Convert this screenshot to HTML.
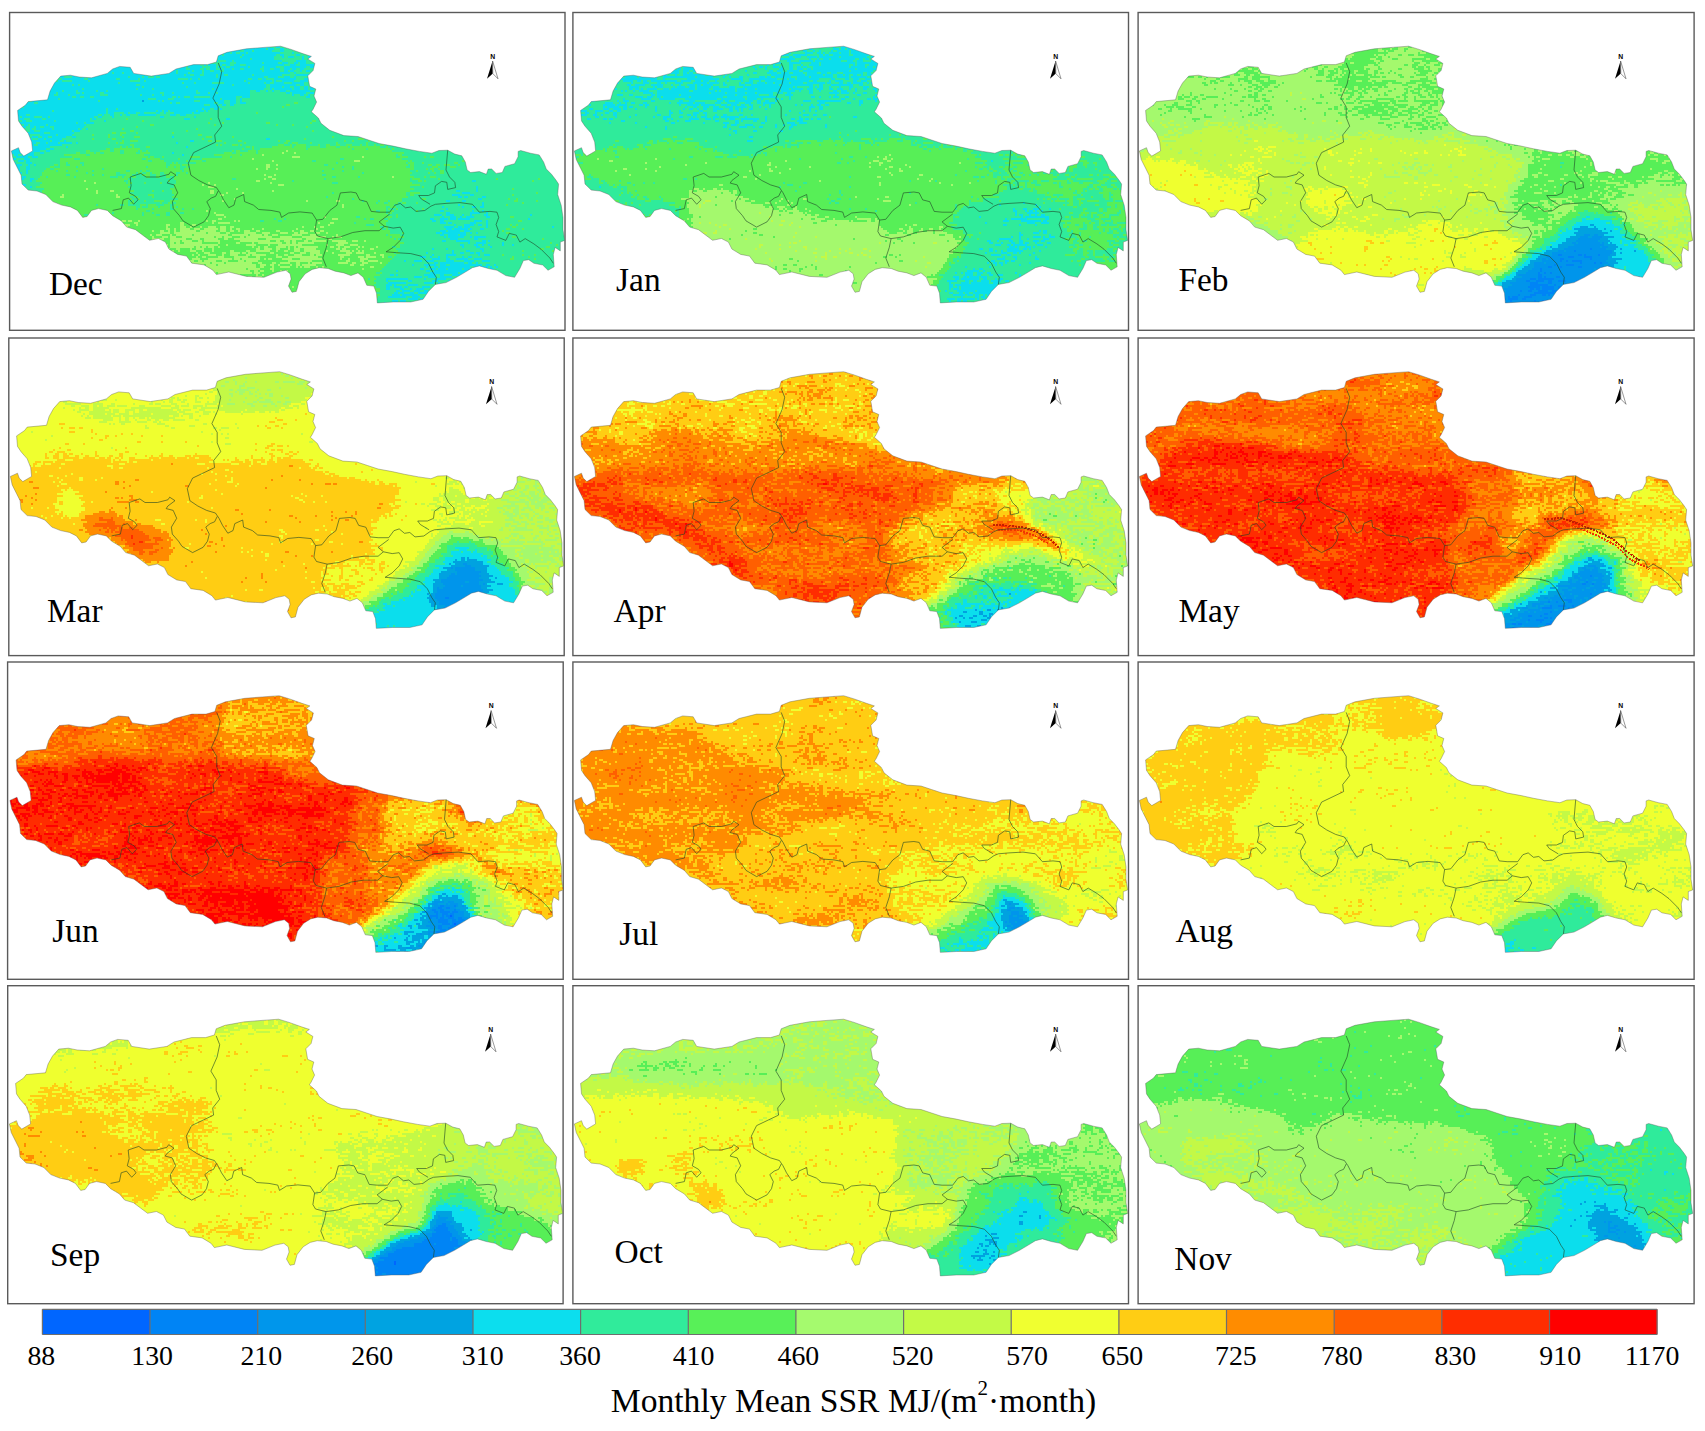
<!DOCTYPE html>
<html lang="en"><head><meta charset="utf-8"><title>Monthly Mean SSR</title>
<style>html,body{margin:0;padding:0;background:#fff}body{width:1705px;height:1431px;overflow:hidden}svg{display:block}text{font-family:"Liberation Serif","Times New Roman",serif;fill:#000}.n{font-family:"Liberation Sans",sans-serif;font-weight:bold;font-size:6.8px}.m{font-size:33.4px}.t{font-size:27.8px}.c{font-size:33.6px}</style></head><body>
<svg width="1705" height="1431" viewBox="0 0 1705 1431">
<defs>
<clipPath id="o"><path d="M11.4 150.9L18.5 147.7L20.2 152.6L23.8 156.1L32.6 150.9L31.7 142.1L28.2 133.3L22 126.2L18.5 120.9L17.6 110.4L25.5 105.1L28.2 101.6L47.5 99.8L50.1 91L54.5 83.1L60.7 76.1L70.4 75.2L79.2 77L91.5 77.8L107.3 73.4L112.6 69L119.7 66.4L130.2 67.3L133.7 73.4L151.3 76.1L168.9 73.4L176 69L193.6 64.6L207.6 64.6L216.4 62L218.2 55.8L227 52.3L246.4 48.8L264 47.4L280.6 46.2L291.1 49.4L303.4 53.8L311.4 56.4L307.8 59L314.9 63.4L313.1 70.5L307.8 75.8L309.6 86.3L315.8 89L314 96L316.6 102.1L313.1 109.2L311.4 111.8L318.4 118L321 123.3L329.8 130.3L343.9 135.6L358 136.5L368.5 140L379.1 143.5L393.2 146.1L405.5 148.8L419.6 151.4L431.9 153.2L438.9 150.5L447.7 150.2L454.8 154.1L461.8 155.8L465.3 162L467.1 169.9L470.6 172.5L479.4 171.6L486.4 174.3L488.2 169L491.7 169L496.1 173.4L502.3 172.5L504.9 166.4L514.6 163.7L518.1 156.7L518.1 151.4L520.7 150.5L530.4 153.2L539.2 154.9L543.6 162L546.3 169L551.5 174.3L555.9 180L558.6 184.1L557.7 194.6L561.2 205.2L563 217.5L563 229.8L564.7 240.4L560.3 242.1L560.3 250.9L555.1 247.4L553.3 254.5L554.2 266.8L548 270.3L542.7 265L533.9 263.3L528.7 259.7L523.4 260.6L519.9 268.5L514.6 277.3L505.8 275.6L497 270.3L488.2 268.5L479.4 265.9L472.4 267.7L465.3 272.1L456.5 277.3L446 282.6L435.4 284.4L428.4 291.4L423.1 299.3L410.8 302L393.2 302L377.3 302.9L376.5 293.2L373.8 286.1L366.8 285.3L363.3 277.3L358 272.9L350.9 275.6L343.9 272.9L335.1 271.2L328.1 268.5L319.3 267.7L312.2 269.4L305.2 273.8L299 281.7L296.4 291.4L292 292.3L288.5 286.1L291.1 279.1L290.2 273.8L285.8 270.3L277 272.1L264 277.3L246.4 276.4L228.8 272L216.4 274.6L212.9 270.2L204.1 264.9L191.8 263.2L186.5 256.1L177.7 254.4L168.9 249.1L165.4 242.1L158.4 238.5L149.6 240.3L142.5 235L135.5 229.7L126.7 227.1L121.4 220.9L112.6 215.7L107.3 210.4L98.5 208.6L91.5 210.4L87.1 216.5L82.7 217.4L77.4 210.4L70.4 206.9L61.6 205.1L52.8 201.6L45.8 194.5L37 191L28.2 190.1L22 184L21.1 175.2L17.6 168.2L13.2 159.4Z"/></clipPath>
<path id="ol" d="M11.4 150.9L18.5 147.7L20.2 152.6L23.8 156.1L32.6 150.9L31.7 142.1L28.2 133.3L22 126.2L18.5 120.9L17.6 110.4L25.5 105.1L28.2 101.6L47.5 99.8L50.1 91L54.5 83.1L60.7 76.1L70.4 75.2L79.2 77L91.5 77.8L107.3 73.4L112.6 69L119.7 66.4L130.2 67.3L133.7 73.4L151.3 76.1L168.9 73.4L176 69L193.6 64.6L207.6 64.6L216.4 62L218.2 55.8L227 52.3L246.4 48.8L264 47.4L280.6 46.2L291.1 49.4L303.4 53.8L311.4 56.4L307.8 59L314.9 63.4L313.1 70.5L307.8 75.8L309.6 86.3L315.8 89L314 96L316.6 102.1L313.1 109.2L311.4 111.8L318.4 118L321 123.3L329.8 130.3L343.9 135.6L358 136.5L368.5 140L379.1 143.5L393.2 146.1L405.5 148.8L419.6 151.4L431.9 153.2L438.9 150.5L447.7 150.2L454.8 154.1L461.8 155.8L465.3 162L467.1 169.9L470.6 172.5L479.4 171.6L486.4 174.3L488.2 169L491.7 169L496.1 173.4L502.3 172.5L504.9 166.4L514.6 163.7L518.1 156.7L518.1 151.4L520.7 150.5L530.4 153.2L539.2 154.9L543.6 162L546.3 169L551.5 174.3L555.9 180L558.6 184.1L557.7 194.6L561.2 205.2L563 217.5L563 229.8L564.7 240.4L560.3 242.1L560.3 250.9L555.1 247.4L553.3 254.5L554.2 266.8L548 270.3L542.7 265L533.9 263.3L528.7 259.7L523.4 260.6L519.9 268.5L514.6 277.3L505.8 275.6L497 270.3L488.2 268.5L479.4 265.9L472.4 267.7L465.3 272.1L456.5 277.3L446 282.6L435.4 284.4L428.4 291.4L423.1 299.3L410.8 302L393.2 302L377.3 302.9L376.5 293.2L373.8 286.1L366.8 285.3L363.3 277.3L358 272.9L350.9 275.6L343.9 272.9L335.1 271.2L328.1 268.5L319.3 267.7L312.2 269.4L305.2 273.8L299 281.7L296.4 291.4L292 292.3L288.5 286.1L291.1 279.1L290.2 273.8L285.8 270.3L277 272.1L264 277.3L246.4 276.4L228.8 272L216.4 274.6L212.9 270.2L204.1 264.9L191.8 263.2L186.5 256.1L177.7 254.4L168.9 249.1L165.4 242.1L158.4 238.5L149.6 240.3L142.5 235L135.5 229.7L126.7 227.1L121.4 220.9L112.6 215.7L107.3 210.4L98.5 208.6L91.5 210.4L87.1 216.5L82.7 217.4L77.4 210.4L70.4 206.9L61.6 205.1L52.8 201.6L45.8 194.5L37 191L28.2 190.1L22 184L21.1 175.2L17.6 168.2L13.2 159.4Z"/>
<g id="il"><path d="M218.2 62.9L221.7 71.7L219.1 84L212.9 98.1L218.2 106.9L218.2 117.4L221.7 126.2L214.7 135L215.6 142.1L193.6 152.6L188.3 163.2L190.9 175.2L198.8 180.5L207.6 184.9L216.4 187.5L220 192.8L223.5 199.8L228.8 207.7L234 205.1L235.8 198.1L243.7 194.5L244.6 201.6L253.4 205.1L258.7 209.5L271 210.4L279.8 212.1L281.5 217.4L288.6 213L299.9 211.9L312.2 213.1L316.6 220.1L322.8 219.3L329.8 210.5L336.9 205.2L340.4 192.9L350.9 192L356.2 192.9L359.7 199.9L366.8 201.7L371.2 211.4L379.1 212.2L389.7 212.2L394.9 205.2L400.2 203.4L405.5 207.8L410.8 207L416 211.4L424.8 210.5L431 206.1L435.4 204.3L446 203.4L460 202.6L472.4 204.3L479.4 212.2L490 211.4L497 212.2L498.7 217.5L496.1 224.5L498.7 231.6L497 236.9L505.8 240.4L509.3 233.4L516.3 235.1L519.9 242.1L525.2 238.6L533.9 243.9L541 249.2L549.8 258L553.3 263.3"/><path d="M447.7 150.2L446 170L449.5 177L454.8 182.3L455.6 187.6L447.7 189.4L446.8 182.3L441.6 181.4L435.4 185.8L434.5 192.9L428.4 195.5L418.7 195.5L421.3 199L430.1 204.3"/><path d="M316.6 220.1L314.9 231.6L317.5 236L328.1 238.6L326.3 247.4L322.8 258L326.3 266.8"/><path d="M328.1 238.6L340.4 236.9L352.7 232.5L365 230.7L379.1 230.7L384.4 226.3L379.1 221.9L389.7 214"/><path d="M384.4 226.3L393.2 228.1L400.2 227.2L403.7 233.4L400.2 240.4L393.2 247.4L386.1 251.8L396.7 252.7L410.8 253.6L421.3 256.2L428.4 263.3L432.8 272.1L436.3 277.3L435.4 284.4"/><path d="M112.6 210.4L121.4 208.6L123.2 199.8L128.5 198.1L133.7 204.2L138.1 199.8L135.5 196.3L129.3 192.8L131.1 185.7L130.2 177L140.8 173.4L146 177L158.4 177L168.9 174.3L170.7 171.7L176 175.2L168.9 180.5L167.2 183.1L174.2 184.9L177.7 192.8L172.4 201.6L173.3 208.6L179.5 215.7L183 220.9L193.6 227.1L204.1 221.8L208.5 215.7L210.3 208.6L206.8 201.6L211.2 198.1L215.6 196.3L218.2 191"/></g>
<g id="na"><text class="n" x="492.75" y="58.5" text-anchor="middle">N</text><path d="M492.6 61L487 78.8L492.8 73.6Z" fill="#000"/><path d="M492.6 61L498 78.8L492.8 73.6Z" fill="#fff" stroke="#333" stroke-width=".5"/></g>
<filter id="q0" filterUnits="userSpaceOnUse" x="0" y="20" width="580" height="300" color-interpolation-filters="sRGB"><feGaussianBlur in="SourceGraphic" stdDeviation="5.0" result="b"/><feTurbulence type="fractalNoise" baseFrequency="0.02 0.05" numOctaves="3" seed="3" result="n1"/><feColorMatrix in="n1" type="matrix" values="1 0 0 0 0 1 0 0 0 0 1 0 0 0 0 0 0 0 0 1" result="m1"/><feTurbulence type="fractalNoise" baseFrequency="0.2 0.45" numOctaves="1" seed="11" result="n2"/><feColorMatrix in="n2" type="matrix" values="1 0 0 0 0 1 0 0 0 0 1 0 0 0 0 0 0 0 0 1" result="m2"/><feComposite in="b" in2="m1" operator="arithmetic" k1="0" k2="1" k3="0.08" k4="-0.04" result="s1"/><feComposite in="s1" in2="m2" operator="arithmetic" k1="0" k2="1" k3="0.12" k4="-0.06" result="s"/><feFlood x="0" y="20" width="1" height="1" flood-color="#fff" result="d"/><feOffset in="d" dx="0" dy="0" x="0" y="20" width="2" height="2" result="t"/><feTile in="t" result="g"/><feComposite in="s" in2="g" operator="in" result="sp"/><feConvolveMatrix in="sp" order="2" kernelMatrix="1 1 1 1" divisor="1" edgeMode="none" preserveAlpha="false" result="px"/><feComponentTransfer in="px"><feFuncR type="discrete" tableValues="0.0 0.0 0.0 0.0 0.047 0.188 0.345 0.647 0.765 0.941 1.0 1.0 1.0 1.0 1.0"/><feFuncG type="discrete" tableValues="0.4 0.518 0.588 0.639 0.871 0.922 0.941 0.98 0.98 1.0 0.804 0.549 0.373 0.176 0.0"/><feFuncB type="discrete" tableValues="1.0 0.961 0.922 0.882 0.933 0.608 0.345 0.431 0.275 0.188 0.078 0.0 0.0 0.0 0.0"/></feComponentTransfer></filter>
<filter id="q1" filterUnits="userSpaceOnUse" x="0" y="20" width="580" height="300" color-interpolation-filters="sRGB"><feGaussianBlur in="SourceGraphic" stdDeviation="5.0" result="b"/><feTurbulence type="fractalNoise" baseFrequency="0.02 0.05" numOctaves="3" seed="10" result="n1"/><feColorMatrix in="n1" type="matrix" values="1 0 0 0 0 1 0 0 0 0 1 0 0 0 0 0 0 0 0 1" result="m1"/><feTurbulence type="fractalNoise" baseFrequency="0.2 0.45" numOctaves="1" seed="16" result="n2"/><feColorMatrix in="n2" type="matrix" values="1 0 0 0 0 1 0 0 0 0 1 0 0 0 0 0 0 0 0 1" result="m2"/><feComposite in="b" in2="m1" operator="arithmetic" k1="0" k2="1" k3="0.08" k4="-0.04" result="s1"/><feComposite in="s1" in2="m2" operator="arithmetic" k1="0" k2="1" k3="0.12" k4="-0.06" result="s"/><feFlood x="0" y="20" width="1" height="1" flood-color="#fff" result="d"/><feOffset in="d" dx="0" dy="0" x="0" y="20" width="2" height="2" result="t"/><feTile in="t" result="g"/><feComposite in="s" in2="g" operator="in" result="sp"/><feConvolveMatrix in="sp" order="2" kernelMatrix="1 1 1 1" divisor="1" edgeMode="none" preserveAlpha="false" result="px"/><feComponentTransfer in="px"><feFuncR type="discrete" tableValues="0.0 0.0 0.0 0.0 0.047 0.188 0.345 0.647 0.765 0.941 1.0 1.0 1.0 1.0 1.0"/><feFuncG type="discrete" tableValues="0.4 0.518 0.588 0.639 0.871 0.922 0.941 0.98 0.98 1.0 0.804 0.549 0.373 0.176 0.0"/><feFuncB type="discrete" tableValues="1.0 0.961 0.922 0.882 0.933 0.608 0.345 0.431 0.275 0.188 0.078 0.0 0.0 0.0 0.0"/></feComponentTransfer></filter>
<filter id="q2" filterUnits="userSpaceOnUse" x="0" y="20" width="580" height="300" color-interpolation-filters="sRGB"><feGaussianBlur in="SourceGraphic" stdDeviation="5.0" result="b"/><feTurbulence type="fractalNoise" baseFrequency="0.02 0.05" numOctaves="3" seed="17" result="n1"/><feColorMatrix in="n1" type="matrix" values="1 0 0 0 0 1 0 0 0 0 1 0 0 0 0 0 0 0 0 1" result="m1"/><feTurbulence type="fractalNoise" baseFrequency="0.2 0.45" numOctaves="1" seed="21" result="n2"/><feColorMatrix in="n2" type="matrix" values="1 0 0 0 0 1 0 0 0 0 1 0 0 0 0 0 0 0 0 1" result="m2"/><feComposite in="b" in2="m1" operator="arithmetic" k1="0" k2="1" k3="0.1" k4="-0.05" result="s1"/><feComposite in="s1" in2="m2" operator="arithmetic" k1="0" k2="1" k3="0.14" k4="-0.07" result="s"/><feFlood x="0" y="20" width="1" height="1" flood-color="#fff" result="d"/><feOffset in="d" dx="0" dy="0" x="0" y="20" width="2" height="2" result="t"/><feTile in="t" result="g"/><feComposite in="s" in2="g" operator="in" result="sp"/><feConvolveMatrix in="sp" order="2" kernelMatrix="1 1 1 1" divisor="1" edgeMode="none" preserveAlpha="false" result="px"/><feComponentTransfer in="px"><feFuncR type="discrete" tableValues="0.0 0.0 0.0 0.0 0.047 0.188 0.345 0.647 0.765 0.941 1.0 1.0 1.0 1.0 1.0"/><feFuncG type="discrete" tableValues="0.4 0.518 0.588 0.639 0.871 0.922 0.941 0.98 0.98 1.0 0.804 0.549 0.373 0.176 0.0"/><feFuncB type="discrete" tableValues="1.0 0.961 0.922 0.882 0.933 0.608 0.345 0.431 0.275 0.188 0.078 0.0 0.0 0.0 0.0"/></feComponentTransfer></filter>
<filter id="q3" filterUnits="userSpaceOnUse" x="0" y="20" width="580" height="300" color-interpolation-filters="sRGB"><feGaussianBlur in="SourceGraphic" stdDeviation="5.0" result="b"/><feTurbulence type="fractalNoise" baseFrequency="0.02 0.05" numOctaves="3" seed="24" result="n1"/><feColorMatrix in="n1" type="matrix" values="1 0 0 0 0 1 0 0 0 0 1 0 0 0 0 0 0 0 0 1" result="m1"/><feTurbulence type="fractalNoise" baseFrequency="0.2 0.45" numOctaves="1" seed="26" result="n2"/><feColorMatrix in="n2" type="matrix" values="1 0 0 0 0 1 0 0 0 0 1 0 0 0 0 0 0 0 0 1" result="m2"/><feComposite in="b" in2="m1" operator="arithmetic" k1="0" k2="1" k3="0.08" k4="-0.04" result="s1"/><feComposite in="s1" in2="m2" operator="arithmetic" k1="0" k2="1" k3="0.12" k4="-0.06" result="s"/><feFlood x="0" y="20" width="1" height="1" flood-color="#fff" result="d"/><feOffset in="d" dx="0" dy="0" x="0" y="20" width="2" height="2" result="t"/><feTile in="t" result="g"/><feComposite in="s" in2="g" operator="in" result="sp"/><feConvolveMatrix in="sp" order="2" kernelMatrix="1 1 1 1" divisor="1" edgeMode="none" preserveAlpha="false" result="px"/><feComponentTransfer in="px"><feFuncR type="discrete" tableValues="0.0 0.0 0.0 0.0 0.047 0.188 0.345 0.647 0.765 0.941 1.0 1.0 1.0 1.0 1.0"/><feFuncG type="discrete" tableValues="0.4 0.518 0.588 0.639 0.871 0.922 0.941 0.98 0.98 1.0 0.804 0.549 0.373 0.176 0.0"/><feFuncB type="discrete" tableValues="1.0 0.961 0.922 0.882 0.933 0.608 0.345 0.431 0.275 0.188 0.078 0.0 0.0 0.0 0.0"/></feComponentTransfer></filter>
<filter id="q4" filterUnits="userSpaceOnUse" x="0" y="20" width="580" height="300" color-interpolation-filters="sRGB"><feGaussianBlur in="SourceGraphic" stdDeviation="5.0" result="b"/><feTurbulence type="fractalNoise" baseFrequency="0.02 0.05" numOctaves="3" seed="31" result="n1"/><feColorMatrix in="n1" type="matrix" values="1 0 0 0 0 1 0 0 0 0 1 0 0 0 0 0 0 0 0 1" result="m1"/><feTurbulence type="fractalNoise" baseFrequency="0.2 0.45" numOctaves="1" seed="31" result="n2"/><feColorMatrix in="n2" type="matrix" values="1 0 0 0 0 1 0 0 0 0 1 0 0 0 0 0 0 0 0 1" result="m2"/><feComposite in="b" in2="m1" operator="arithmetic" k1="0" k2="1" k3="0.15" k4="-0.075" result="s1"/><feComposite in="s1" in2="m2" operator="arithmetic" k1="0" k2="1" k3="0.24" k4="-0.12" result="s"/><feFlood x="0" y="20" width="1" height="1" flood-color="#fff" result="d"/><feOffset in="d" dx="0" dy="0" x="0" y="20" width="2" height="2" result="t"/><feTile in="t" result="g"/><feComposite in="s" in2="g" operator="in" result="sp"/><feConvolveMatrix in="sp" order="2" kernelMatrix="1 1 1 1" divisor="1" edgeMode="none" preserveAlpha="false" result="px"/><feComponentTransfer in="px"><feFuncR type="discrete" tableValues="0.0 0.0 0.0 0.0 0.047 0.188 0.345 0.647 0.765 0.941 1.0 1.0 1.0 1.0 1.0"/><feFuncG type="discrete" tableValues="0.4 0.518 0.588 0.639 0.871 0.922 0.941 0.98 0.98 1.0 0.804 0.549 0.373 0.176 0.0"/><feFuncB type="discrete" tableValues="1.0 0.961 0.922 0.882 0.933 0.608 0.345 0.431 0.275 0.188 0.078 0.0 0.0 0.0 0.0"/></feComponentTransfer></filter>
<filter id="q5" filterUnits="userSpaceOnUse" x="0" y="20" width="580" height="300" color-interpolation-filters="sRGB"><feGaussianBlur in="SourceGraphic" stdDeviation="5.0" result="b"/><feTurbulence type="fractalNoise" baseFrequency="0.02 0.05" numOctaves="3" seed="38" result="n1"/><feColorMatrix in="n1" type="matrix" values="1 0 0 0 0 1 0 0 0 0 1 0 0 0 0 0 0 0 0 1" result="m1"/><feTurbulence type="fractalNoise" baseFrequency="0.2 0.45" numOctaves="1" seed="36" result="n2"/><feColorMatrix in="n2" type="matrix" values="1 0 0 0 0 1 0 0 0 0 1 0 0 0 0 0 0 0 0 1" result="m2"/><feComposite in="b" in2="m1" operator="arithmetic" k1="0" k2="1" k3="0.15" k4="-0.075" result="s1"/><feComposite in="s1" in2="m2" operator="arithmetic" k1="0" k2="1" k3="0.24" k4="-0.12" result="s"/><feFlood x="0" y="20" width="1" height="1" flood-color="#fff" result="d"/><feOffset in="d" dx="0" dy="0" x="0" y="20" width="2" height="2" result="t"/><feTile in="t" result="g"/><feComposite in="s" in2="g" operator="in" result="sp"/><feConvolveMatrix in="sp" order="2" kernelMatrix="1 1 1 1" divisor="1" edgeMode="none" preserveAlpha="false" result="px"/><feComponentTransfer in="px"><feFuncR type="discrete" tableValues="0.0 0.0 0.0 0.0 0.047 0.188 0.345 0.647 0.765 0.941 1.0 1.0 1.0 1.0 1.0"/><feFuncG type="discrete" tableValues="0.4 0.518 0.588 0.639 0.871 0.922 0.941 0.98 0.98 1.0 0.804 0.549 0.373 0.176 0.0"/><feFuncB type="discrete" tableValues="1.0 0.961 0.922 0.882 0.933 0.608 0.345 0.431 0.275 0.188 0.078 0.0 0.0 0.0 0.0"/></feComponentTransfer></filter>
<filter id="q6" filterUnits="userSpaceOnUse" x="0" y="20" width="580" height="300" color-interpolation-filters="sRGB"><feGaussianBlur in="SourceGraphic" stdDeviation="5.0" result="b"/><feTurbulence type="fractalNoise" baseFrequency="0.02 0.05" numOctaves="3" seed="45" result="n1"/><feColorMatrix in="n1" type="matrix" values="1 0 0 0 0 1 0 0 0 0 1 0 0 0 0 0 0 0 0 1" result="m1"/><feTurbulence type="fractalNoise" baseFrequency="0.2 0.45" numOctaves="1" seed="41" result="n2"/><feColorMatrix in="n2" type="matrix" values="1 0 0 0 0 1 0 0 0 0 1 0 0 0 0 0 0 0 0 1" result="m2"/><feComposite in="b" in2="m1" operator="arithmetic" k1="0" k2="1" k3="0.15" k4="-0.075" result="s1"/><feComposite in="s1" in2="m2" operator="arithmetic" k1="0" k2="1" k3="0.24" k4="-0.12" result="s"/><feFlood x="0" y="20" width="1" height="1" flood-color="#fff" result="d"/><feOffset in="d" dx="0" dy="0" x="0" y="20" width="2" height="2" result="t"/><feTile in="t" result="g"/><feComposite in="s" in2="g" operator="in" result="sp"/><feConvolveMatrix in="sp" order="2" kernelMatrix="1 1 1 1" divisor="1" edgeMode="none" preserveAlpha="false" result="px"/><feComponentTransfer in="px"><feFuncR type="discrete" tableValues="0.0 0.0 0.0 0.0 0.047 0.188 0.345 0.647 0.765 0.941 1.0 1.0 1.0 1.0 1.0"/><feFuncG type="discrete" tableValues="0.4 0.518 0.588 0.639 0.871 0.922 0.941 0.98 0.98 1.0 0.804 0.549 0.373 0.176 0.0"/><feFuncB type="discrete" tableValues="1.0 0.961 0.922 0.882 0.933 0.608 0.345 0.431 0.275 0.188 0.078 0.0 0.0 0.0 0.0"/></feComponentTransfer></filter>
<filter id="q7" filterUnits="userSpaceOnUse" x="0" y="20" width="580" height="300" color-interpolation-filters="sRGB"><feGaussianBlur in="SourceGraphic" stdDeviation="5.0" result="b"/><feTurbulence type="fractalNoise" baseFrequency="0.02 0.05" numOctaves="3" seed="52" result="n1"/><feColorMatrix in="n1" type="matrix" values="1 0 0 0 0 1 0 0 0 0 1 0 0 0 0 0 0 0 0 1" result="m1"/><feTurbulence type="fractalNoise" baseFrequency="0.2 0.45" numOctaves="1" seed="46" result="n2"/><feColorMatrix in="n2" type="matrix" values="1 0 0 0 0 1 0 0 0 0 1 0 0 0 0 0 0 0 0 1" result="m2"/><feComposite in="b" in2="m1" operator="arithmetic" k1="0" k2="1" k3="0.11" k4="-0.055" result="s1"/><feComposite in="s1" in2="m2" operator="arithmetic" k1="0" k2="1" k3="0.16" k4="-0.08" result="s"/><feFlood x="0" y="20" width="1" height="1" flood-color="#fff" result="d"/><feOffset in="d" dx="0" dy="0" x="0" y="20" width="2" height="2" result="t"/><feTile in="t" result="g"/><feComposite in="s" in2="g" operator="in" result="sp"/><feConvolveMatrix in="sp" order="2" kernelMatrix="1 1 1 1" divisor="1" edgeMode="none" preserveAlpha="false" result="px"/><feComponentTransfer in="px"><feFuncR type="discrete" tableValues="0.0 0.0 0.0 0.0 0.047 0.188 0.345 0.647 0.765 0.941 1.0 1.0 1.0 1.0 1.0"/><feFuncG type="discrete" tableValues="0.4 0.518 0.588 0.639 0.871 0.922 0.941 0.98 0.98 1.0 0.804 0.549 0.373 0.176 0.0"/><feFuncB type="discrete" tableValues="1.0 0.961 0.922 0.882 0.933 0.608 0.345 0.431 0.275 0.188 0.078 0.0 0.0 0.0 0.0"/></feComponentTransfer></filter>
<filter id="q8" filterUnits="userSpaceOnUse" x="0" y="20" width="580" height="300" color-interpolation-filters="sRGB"><feGaussianBlur in="SourceGraphic" stdDeviation="5.0" result="b"/><feTurbulence type="fractalNoise" baseFrequency="0.02 0.05" numOctaves="3" seed="59" result="n1"/><feColorMatrix in="n1" type="matrix" values="1 0 0 0 0 1 0 0 0 0 1 0 0 0 0 0 0 0 0 1" result="m1"/><feTurbulence type="fractalNoise" baseFrequency="0.2 0.45" numOctaves="1" seed="51" result="n2"/><feColorMatrix in="n2" type="matrix" values="1 0 0 0 0 1 0 0 0 0 1 0 0 0 0 0 0 0 0 1" result="m2"/><feComposite in="b" in2="m1" operator="arithmetic" k1="0" k2="1" k3="0.08" k4="-0.04" result="s1"/><feComposite in="s1" in2="m2" operator="arithmetic" k1="0" k2="1" k3="0.12" k4="-0.06" result="s"/><feFlood x="0" y="20" width="1" height="1" flood-color="#fff" result="d"/><feOffset in="d" dx="0" dy="0" x="0" y="20" width="2" height="2" result="t"/><feTile in="t" result="g"/><feComposite in="s" in2="g" operator="in" result="sp"/><feConvolveMatrix in="sp" order="2" kernelMatrix="1 1 1 1" divisor="1" edgeMode="none" preserveAlpha="false" result="px"/><feComponentTransfer in="px"><feFuncR type="discrete" tableValues="0.0 0.0 0.0 0.0 0.047 0.188 0.345 0.647 0.765 0.941 1.0 1.0 1.0 1.0 1.0"/><feFuncG type="discrete" tableValues="0.4 0.518 0.588 0.639 0.871 0.922 0.941 0.98 0.98 1.0 0.804 0.549 0.373 0.176 0.0"/><feFuncB type="discrete" tableValues="1.0 0.961 0.922 0.882 0.933 0.608 0.345 0.431 0.275 0.188 0.078 0.0 0.0 0.0 0.0"/></feComponentTransfer></filter>
<filter id="q9" filterUnits="userSpaceOnUse" x="0" y="20" width="580" height="300" color-interpolation-filters="sRGB"><feGaussianBlur in="SourceGraphic" stdDeviation="5.0" result="b"/><feTurbulence type="fractalNoise" baseFrequency="0.02 0.05" numOctaves="3" seed="66" result="n1"/><feColorMatrix in="n1" type="matrix" values="1 0 0 0 0 1 0 0 0 0 1 0 0 0 0 0 0 0 0 1" result="m1"/><feTurbulence type="fractalNoise" baseFrequency="0.2 0.45" numOctaves="1" seed="56" result="n2"/><feColorMatrix in="n2" type="matrix" values="1 0 0 0 0 1 0 0 0 0 1 0 0 0 0 0 0 0 0 1" result="m2"/><feComposite in="b" in2="m1" operator="arithmetic" k1="0" k2="1" k3="0.08" k4="-0.04" result="s1"/><feComposite in="s1" in2="m2" operator="arithmetic" k1="0" k2="1" k3="0.12" k4="-0.06" result="s"/><feFlood x="0" y="20" width="1" height="1" flood-color="#fff" result="d"/><feOffset in="d" dx="0" dy="0" x="0" y="20" width="2" height="2" result="t"/><feTile in="t" result="g"/><feComposite in="s" in2="g" operator="in" result="sp"/><feConvolveMatrix in="sp" order="2" kernelMatrix="1 1 1 1" divisor="1" edgeMode="none" preserveAlpha="false" result="px"/><feComponentTransfer in="px"><feFuncR type="discrete" tableValues="0.0 0.0 0.0 0.0 0.047 0.188 0.345 0.647 0.765 0.941 1.0 1.0 1.0 1.0 1.0"/><feFuncG type="discrete" tableValues="0.4 0.518 0.588 0.639 0.871 0.922 0.941 0.98 0.98 1.0 0.804 0.549 0.373 0.176 0.0"/><feFuncB type="discrete" tableValues="1.0 0.961 0.922 0.882 0.933 0.608 0.345 0.431 0.275 0.188 0.078 0.0 0.0 0.0 0.0"/></feComponentTransfer></filter>
<filter id="q10" filterUnits="userSpaceOnUse" x="0" y="20" width="580" height="300" color-interpolation-filters="sRGB"><feGaussianBlur in="SourceGraphic" stdDeviation="5.0" result="b"/><feTurbulence type="fractalNoise" baseFrequency="0.02 0.05" numOctaves="3" seed="73" result="n1"/><feColorMatrix in="n1" type="matrix" values="1 0 0 0 0 1 0 0 0 0 1 0 0 0 0 0 0 0 0 1" result="m1"/><feTurbulence type="fractalNoise" baseFrequency="0.2 0.45" numOctaves="1" seed="61" result="n2"/><feColorMatrix in="n2" type="matrix" values="1 0 0 0 0 1 0 0 0 0 1 0 0 0 0 0 0 0 0 1" result="m2"/><feComposite in="b" in2="m1" operator="arithmetic" k1="0" k2="1" k3="0.08" k4="-0.04" result="s1"/><feComposite in="s1" in2="m2" operator="arithmetic" k1="0" k2="1" k3="0.12" k4="-0.06" result="s"/><feFlood x="0" y="20" width="1" height="1" flood-color="#fff" result="d"/><feOffset in="d" dx="0" dy="0" x="0" y="20" width="2" height="2" result="t"/><feTile in="t" result="g"/><feComposite in="s" in2="g" operator="in" result="sp"/><feConvolveMatrix in="sp" order="2" kernelMatrix="1 1 1 1" divisor="1" edgeMode="none" preserveAlpha="false" result="px"/><feComponentTransfer in="px"><feFuncR type="discrete" tableValues="0.0 0.0 0.0 0.0 0.047 0.188 0.345 0.647 0.765 0.941 1.0 1.0 1.0 1.0 1.0"/><feFuncG type="discrete" tableValues="0.4 0.518 0.588 0.639 0.871 0.922 0.941 0.98 0.98 1.0 0.804 0.549 0.373 0.176 0.0"/><feFuncB type="discrete" tableValues="1.0 0.961 0.922 0.882 0.933 0.608 0.345 0.431 0.275 0.188 0.078 0.0 0.0 0.0 0.0"/></feComponentTransfer></filter>
<filter id="q11" filterUnits="userSpaceOnUse" x="0" y="20" width="580" height="300" color-interpolation-filters="sRGB"><feGaussianBlur in="SourceGraphic" stdDeviation="5.0" result="b"/><feTurbulence type="fractalNoise" baseFrequency="0.02 0.05" numOctaves="3" seed="80" result="n1"/><feColorMatrix in="n1" type="matrix" values="1 0 0 0 0 1 0 0 0 0 1 0 0 0 0 0 0 0 0 1" result="m1"/><feTurbulence type="fractalNoise" baseFrequency="0.2 0.45" numOctaves="1" seed="66" result="n2"/><feColorMatrix in="n2" type="matrix" values="1 0 0 0 0 1 0 0 0 0 1 0 0 0 0 0 0 0 0 1" result="m2"/><feComposite in="b" in2="m1" operator="arithmetic" k1="0" k2="1" k3="0.08" k4="-0.04" result="s1"/><feComposite in="s1" in2="m2" operator="arithmetic" k1="0" k2="1" k3="0.12" k4="-0.06" result="s"/><feFlood x="0" y="20" width="1" height="1" flood-color="#fff" result="d"/><feOffset in="d" dx="0" dy="0" x="0" y="20" width="2" height="2" result="t"/><feTile in="t" result="g"/><feComposite in="s" in2="g" operator="in" result="sp"/><feConvolveMatrix in="sp" order="2" kernelMatrix="1 1 1 1" divisor="1" edgeMode="none" preserveAlpha="false" result="px"/><feComponentTransfer in="px"><feFuncR type="discrete" tableValues="0.0 0.0 0.0 0.0 0.047 0.188 0.345 0.647 0.765 0.941 1.0 1.0 1.0 1.0 1.0"/><feFuncG type="discrete" tableValues="0.4 0.518 0.588 0.639 0.871 0.922 0.941 0.98 0.98 1.0 0.804 0.549 0.373 0.176 0.0"/><feFuncB type="discrete" tableValues="1.0 0.961 0.922 0.882 0.933 0.608 0.345 0.431 0.275 0.188 0.078 0.0 0.0 0.0 0.0"/></feComponentTransfer></filter>
<filter id="pb" filterUnits="userSpaceOnUse" x="300" y="120" width="330" height="260" color-interpolation-filters="sRGB"><feGaussianBlur stdDeviation="4"/></filter>
</defs>
<rect width="1705" height="1431" fill="#fff"/>
<rect x="9.6" y="12.5" width="555.4" height="317.8" fill="none" stroke="#5a5a5a" stroke-width="1.4"/>
<g transform="translate(0 0)"><g clip-path="url(#o)"><g transform="translate(0 0)" filter="url(#q0)"><g transform="translate(0 0)"><rect x="-10" y="10" width="600" height="320" fill="rgb(94,94,94)"/><path d="M6.7 93.6L50.1 63.5L133.7 56.8L214 53.5L217.3 40.1L267.4 40.1L277.5 60.2L267.4 86.9L234 102L214 107L173.8 110.3L140.4 113.7L100.3 117L66.9 137.1L36.8 157.1L6.7 157.1Z" fill="rgb(79,79,79)"/><path d="M267.4 40.1L320.9 40.1L320.9 97L267.4 90.3L277.5 60.2Z" fill="rgb(85,85,85)"/><path d="M6.7 157.1L36.8 157.1L33.4 180.5L23.4 203.9L6.7 187.2Z" fill="rgb(86,86,86)"/><path d="M36.8 173.8L76.9 152.1L133.7 148.8L180.5 167.2L200.6 157.1L267.4 147.1L334.3 143.8L384.5 147.1L412.9 160.5L409.5 187.2L396.2 207.3L384.5 230.7L402.8 234L396.2 254.1L381.1 267.4L376.1 300.9L287.5 307.6L200.6 284.2L133.7 240.7L83.6 220.6L43.5 200.6Z" fill="rgb(110,110,110)"/><path d="M132.1 175.5L173.8 173.8L177.2 200.6L140.4 203.9L127 200.6Z" fill="rgb(94,94,94)"/><path d="M147.1 230.7L173.8 224L234 227.3L320.9 230.7L320.9 270.8L214 277.5L187.2 257.4L157.1 240.7Z" fill="rgb(121,121,121)"/><path d="M329.3 237.4L384.5 234L387.8 254.1L377.8 267.4L334.3 264.1Z" fill="rgb(118,118,118)"/><path d="M431.3 203.9L468 200.6L494.8 217.3L491.4 254.1L475.6 291.6L454.4 310.6L417.2 328.2L386 328.8L384.5 274.1L417.9 254.1L434.6 234Z" fill="rgb(85,85,85)" filter="url(#pb)"/></g></g></g><use href="#ol" fill="none" stroke="#555" stroke-opacity=".55" stroke-width=".7"/><use href="#il" fill="none" stroke="#1e4426" stroke-opacity=".8" stroke-width=".75"/><use href="#na"/></g>
<text class="m" x="48.9" y="294.6">Dec</text>
<rect x="572.9" y="12.5" width="555.6" height="317.8" fill="none" stroke="#5a5a5a" stroke-width="1.4"/>
<g transform="translate(563 0)"><g clip-path="url(#o)"><g transform="translate(0 0)" filter="url(#q1)"><g transform="translate(0 0)"><rect x="-10" y="10" width="600" height="320" fill="rgb(94,94,94)"/><path d="M46.8 60.2L133.7 56.8L217.3 53.5L217.3 40.1L320.9 40.1L320.9 80.2L300.9 93.6L267.4 97L234 97L214 103.6L173.8 107L133.7 107L100.3 100.3L50.1 97Z" fill="rgb(83,83,83)"/><path d="M13.4 100.3L50.1 97L100.3 100.3L133.7 107L214 103.6L267.4 97L320.9 80.2L320.9 110.3L267.4 127L217.3 133.7L187.2 140.4L133.7 133.7L83.6 127L13.4 120.4Z" fill="rgb(88,88,88)"/><path d="M6.7 160.5L33.4 150.4L66.9 147.1L100.3 140.4L150.4 147.1L187.2 157.1L200.6 147.1L267.4 140.4L334.3 140.4L384.5 147.1L417.9 157.1L434.6 173.8L444.6 187.2L417.9 200.6L394.5 207.3L384.5 227.3L401.2 234L394.5 250.7L367.7 294.2L287.5 307.6L200.6 284.2L133.7 240.7L83.6 220.6L43.5 207.3L6.7 187.2Z" fill="rgb(110,110,110)"/><path d="M494.8 207.3L521.5 187.2L591.7 165.1L596.3 265.4L562 295.2L526.2 281.7L498.1 234Z" fill="rgb(103,103,103)" filter="url(#pb)"/><path d="M423 129.6L447 119.1L471.9 146L529 126.8L521.5 187.2L494.8 207.3L444.6 187.2Z" fill="rgb(102,102,102)" filter="url(#pb)"/><path d="M127 190.6L173.8 188.9L187.2 200.6L214 214L254.1 217.3L314.3 220.6L320.9 234L384.5 230.7L401.2 234L394.5 250.7L381.1 264.1L367.7 290.9L287.5 307.6L200.6 284.2L133.7 240.7L123.7 210.6Z" fill="rgb(128,128,128)"/><path d="M434.6 207.3L474.7 203.9L494.8 220.6L491.4 254.1L475.6 291.6L442.6 311.8L424.6 260.8L407.9 257.4L421.2 234Z" fill="rgb(87,87,87)" filter="url(#pb)"/><path d="M401.2 264.1L424.6 264.1L439.3 308.4L451.2 316.5L379.4 332.2L384.5 284.2Z" fill="rgb(82,82,82)" filter="url(#pb)"/><path d="M13.4 187.2L43.5 200.6L83.6 214L113.7 217.3L110.3 200.6L66.9 193.9L20.1 173.8Z" fill="rgb(94,94,94)"/></g></g></g><use href="#ol" fill="none" stroke="#555" stroke-opacity=".55" stroke-width=".7"/><use href="#il" fill="none" stroke="#1e4426" stroke-opacity=".8" stroke-width=".75"/><use href="#na"/></g>
<text class="m" x="616.1" y="290.5">Jan</text>
<rect x="1138.1" y="12.5" width="556" height="317.8" fill="none" stroke="#5a5a5a" stroke-width="1.4"/>
<g transform="translate(1128 0)"><g clip-path="url(#o)"><g transform="translate(0 0)" filter="url(#q2)"><g transform="translate(0 0)"><rect x="-10" y="10" width="600" height="320" fill="rgb(128,128,128)"/><path d="M13.4 100.3L50.1 63.5L217.3 50.1L217.3 36.8L324.3 36.8L324.3 127L300.9 133.7L254.1 130.4L234 110.3L200.6 100.3L133.7 97L83.6 100.3L33.4 117Z" fill="rgb(121,121,121)"/><path d="M217.3 36.8L324.3 36.8L324.3 110.3L260.8 113.7L220.6 100.3Z" fill="rgb(118,118,118)"/><path d="M20.1 140.4L83.6 127L150.4 127L187.2 140.4L234 133.7L300.9 140.4L367.7 150.4L401.2 160.5L384.5 187.2L377.8 214L367.7 234L300.9 240.7L234 234L187.2 240.7L147.1 234L127 214L66.9 187.2L26.7 173.8Z" fill="rgb(144,144,144)"/><path d="M6.7 153.8L40.1 157.1L83.6 173.8L127 187.2L133.7 207.3L120.4 217.3L83.6 214L43.5 203.9L10 180.5Z" fill="rgb(162,162,162)"/><path d="M173.8 187.2L214 187.2L217.3 207.3L200.6 217.3L180.5 207.3Z" fill="rgb(162,162,162)"/><path d="M187.2 234L234 230.7L267.4 227.3L314.3 220.6L320.9 234L367.7 234L401.2 240.7L394.5 257.4L377.8 274.1L334.3 270.8L287.5 307.6L200.6 284.2L160.5 247.4Z" fill="rgb(162,162,162)"/><path d="M401.2 157.1L447 115.8L471.9 146L512.4 117.3L595.1 165.1L599.7 254.1L534.9 234L494.8 214L468 203.9L434.6 207.3L417.9 227.3L407.9 234L387.8 214L384.5 187.2Z" fill="rgb(114,114,114)" filter="url(#pb)"/><path d="M491.4 200.6L521.5 187.2L598.3 191.8L599.6 285.5L545.5 302L508.2 247.4Z" fill="rgb(138,138,138)" filter="url(#pb)"/><path d="M454.7 205.6L488.1 214L511.5 240.7L553.8 282.1L502.8 311.7L473.5 302.7L465.6 307.5L461.2 318.2L369.3 337.2L366.2 312L391.1 257.4L414.5 242.4L434.6 224Z" fill="rgb(94,94,94)" filter="url(#pb)"/><path d="M458 214L484.8 222.3L504.8 242.4L543.8 283.6L502.8 305L473.5 297.6L463.9 302.5L457.9 314.8L376 333.8L348.3 294.1L394.5 260.8L417.9 247.4L437.9 230.7Z" fill="rgb(76,76,76)" filter="url(#pb)"/><path d="M461.3 230.7L481.4 240.7L487 289.8L473.5 294.3L463.9 299.1L454.5 311.5L379.4 330.5L354.9 297.5L401.2 264.1L421.2 254.1L441.3 240.7Z" fill="rgb(36,36,36)" filter="url(#pb)"/></g></g></g><use href="#ol" fill="none" stroke="#555" stroke-opacity=".55" stroke-width=".7"/><use href="#il" fill="none" stroke="#1e4426" stroke-opacity=".8" stroke-width=".75"/><use href="#na"/></g>
<text class="m" x="1178.4" y="291.3">Feb</text>
<rect x="8.8" y="338" width="555.4" height="317.6" fill="none" stroke="#5a5a5a" stroke-width="1.4"/>
<g transform="translate(-1 325.5)"><g clip-path="url(#o)"><g transform="translate(0 -0.5)" filter="url(#q3)"><g transform="translate(0 .5)"><rect x="-10" y="10" width="600" height="320" fill="rgb(162,162,162)"/><path d="M218.3 36.3L321.9 36.3L321.9 66.4L301.9 76.4L255.1 86.4L218.3 83.1Z" fill="rgb(138,138,138)"/><path d="M51.1 63L134.7 56.3L218.3 53L218.3 83.1L201.6 99.8L134.7 103.1L84.6 96.5L51.1 83.1Z" fill="rgb(153,153,153)"/><path d="M7.7 149.9L31.1 139.9L67.9 133.2L118 129.9L188.2 133.2L215 133.2L268.4 136.6L301.9 133.2L335.3 146.6L368.7 153.3L402.2 163.3L398.8 176.7L372.1 196.7L368.7 226.8L321.9 236.9L321.9 266.9L288.5 307.1L201.6 283.7L134.7 240.2L84.6 220.1L44.5 206.8L7.7 180Z" fill="rgb(178,178,178)"/><path d="M321.9 236.9L368.7 226.8L388.8 233.5L388.8 253.6L368.7 287L321.9 266.9Z" fill="rgb(169,169,169)"/><path d="M57.8 163.3L81.2 163.3L81.2 186.7L57.8 186.7Z" fill="rgb(162,162,162)"/><path d="M84.6 186.7L111.3 190.1L134.7 200.1L168.2 206.8L174.8 226.8L158.1 236.9L141.4 233.5L124.7 216.8L101.3 206.8L84.6 200.1Z" fill="rgb(204,204,204)"/><path d="M96.3 188.4L114.7 189.4L116.3 196.7L98 196.7Z" fill="rgb(223,223,223)"/><path d="M124.7 206.8L141.4 208.4L144.8 226.8L131.4 226.8Z" fill="rgb(219,219,219)"/><path d="M422.2 186.7L449 146.6L475.7 173.3L495.8 160L495.8 213.5L469 200.1L435.6 200.1Z" fill="rgb(152,152,152)"/><path d="M495.8 132L513.4 116.8L596.1 164.6L600.6 274.9L530.6 294.4L522.5 233.5L495.8 213.5Z" fill="rgb(136,136,136)" filter="url(#pb)"/><path d="M452.3 203.4L495.8 213.5L522.5 243.5L530.6 304.5L474.5 303.8L462.2 317.7L370.3 336.7L339.7 291.5L392.1 256.9L415.5 241.9L432.3 220.1Z" fill="rgb(110,110,110)" filter="url(#pb)"/><path d="M459 216.8L489.1 226.8L512.5 253.6L539.8 291.4L474.5 297.1L464.9 302L458.9 314.3L377 333.3L352.6 297L402.2 266.9L422.2 253.6L438.9 233.5Z" fill="rgb(76,76,76)" filter="url(#pb)"/><path d="M465.7 233.5L485.8 243.5L488 287.6L474.5 293.8L464.9 298.6L455.4 306.8L445.4 303.5L432.3 263.6L445.6 246.9Z" fill="rgb(42,42,42)" filter="url(#pb)"/></g></g></g><use href="#ol" fill="none" stroke="#555" stroke-opacity=".55" stroke-width=".7"/><use href="#il" fill="none" stroke="#1e4426" stroke-opacity=".8" stroke-width=".75"/><use href="#na"/></g>
<text class="m" x="46.9" y="621.5">Mar</text>
<rect x="572.9" y="338" width="555.6" height="317.6" fill="none" stroke="#5a5a5a" stroke-width="1.4"/>
<g transform="translate(563 325.5)"><g clip-path="url(#o)"><g transform="translate(0 -0.5)" filter="url(#q4)"><g transform="translate(0 .5)"><rect x="-10" y="10" width="600" height="320" fill="rgb(196,196,196)"/><path d="M13.4 106.5L46.8 63L133.7 56.3L217.3 53L217.3 36.3L320.9 36.3L320.9 126.5L300.9 119.9L267.4 109.8L234 109.8L214 116.5L187.2 113.2L150.4 106.5L100.3 106.5L50.1 113.2L13.4 119.9Z" fill="rgb(180,180,180)"/><path d="M60.2 66.4L214 56.3L214 106.5L150.4 96.5L100.3 93.1L60.2 89.8Z" fill="rgb(175,175,175)"/><path d="M6.7 149.9L33.4 146.6L83.6 139.9L140.4 146.6L187.2 156.6L234 139.9L300.9 139.9L354.4 149.9L394.5 160L387.8 176.7L354.4 186.7L327.6 200.1L320.9 220.1L334.3 233.5L367.7 236.9L334.3 253.6L320.9 266.9L287.5 307.1L200.6 283.7L133.7 240.2L83.6 220.1L43.5 206.8L6.7 180Z" fill="rgb(206,206,206)"/><path d="M200.6 146.6L300.9 146.6L367.7 156.6L354.4 180L300.9 186.7L200.6 180Z" fill="rgb(214,214,214)"/><path d="M6.7 153.3L50.1 156.6L100.3 186.7L127 200.1L153.8 213.5L180.5 233.5L187.2 253.6L167.2 246.9L147.1 236.9L127 216.8L100.3 206.8L66.9 200.1L33.4 186.7L6.7 170Z" fill="rgb(224,224,224)"/><path d="M214 253.6L314.3 253.6L314.3 277L214 277Z" fill="rgb(218,218,218)"/><path d="M300.9 163.3L327.6 163.3L327.6 173.3L300.9 173.3Z" fill="rgb(230,230,230)"/><path d="M394.5 160L448 146.6L468 173.3L454.7 186.7L421.2 196.7L401.2 206.8L384.5 226.8L401.2 233.5L394.5 253.6L381.1 266.9L367.7 287L334.3 266.9L334.3 253.6L367.7 236.9L334.3 233.5L320.9 220.1L327.6 200.1L354.4 186.7L387.8 176.7Z" fill="rgb(182,182,182)"/><path d="M411.2 200.1L434.6 213.5L461.3 220.1L434.6 233.5L411.2 246.9L394.5 260.3L384.5 253.6L401.2 233.5L387.8 213.5Z" fill="rgb(170,170,170)"/><path d="M448 149.9L474.7 173.3L461.3 190.1L434.6 193.4L434.6 166.7Z" fill="rgb(168,168,168)"/><path d="M471.9 145.5L512.4 116.8L595.1 164.6L599.6 285L555.3 311.4L528.2 240.2L501.5 220.1L481.4 206.8L461.3 193.4Z" fill="rgb(136,136,136)" filter="url(#pb)"/><path d="M431.3 200.1L451.3 201.8L474.7 206.8L494.8 220.1" fill="none" stroke="rgb(246,246,246)" stroke-width="3.5" stroke-linecap="round" stroke-linejoin="round"/><path d="M391.1 253.6L431.3 230.2L468 216.8L508.2 230.2L576.2 254.9L515.1 300.1L461.2 321L369.3 336.7L338.7 294.9Z" fill="rgb(136,136,136)" filter="url(#pb)"/><path d="M401.2 253.6L434.6 240.2L468 230.2L501.5 240.2L519 276.6L529.6 304.5L473.5 303.8L461.2 317.7L376 333.3L348.3 293.6Z" fill="rgb(110,110,110)" filter="url(#pb)"/><path d="M394.5 270.3L431.3 263.6L468 256.9L487 290.9L547.1 274.9L538.8 291.4L473.5 297.1L463.9 302L457.9 314.3L394.5 331.7L384.5 287Z" fill="rgb(76,76,76)" filter="url(#pb)"/></g></g><path d="M429.6 199.4L444.6 200.1L461.3 202.1L476.4 207.4L488.8 215.1L496.5 222.8" fill="none" stroke="#c42000" stroke-width="1.8" stroke-dasharray="2 1.2" shape-rendering="crispEdges"/><path d="M434.6 204.1L454.7 204.8L471.4 210.1L484.8 217.5" fill="none" stroke="#f03800" stroke-width="2.0" stroke-dasharray="2 1.2" shape-rendering="crispEdges"/></g><use href="#ol" fill="none" stroke="#555" stroke-opacity=".55" stroke-width=".7"/><use href="#il" fill="none" stroke="#1e4426" stroke-opacity=".8" stroke-width=".75"/><use href="#na"/></g>
<text class="m" x="613.6" y="621.7">Apr</text>
<rect x="1138.1" y="338" width="556" height="317.6" fill="none" stroke="#5a5a5a" stroke-width="1.4"/>
<g transform="translate(1128 325.5)"><g clip-path="url(#o)"><g transform="translate(0 -0.5)" filter="url(#q5)"><g transform="translate(0 .5)"><rect x="-10" y="10" width="600" height="320" fill="rgb(212,212,212)"/><path d="M20.1 106.5L50.1 63L217.3 49.6L217.3 36.3L320.9 36.3L320.9 126.5L334.3 139.9L300.9 146.6L234 139.9L214 126.5L150.4 123.2L100.3 109.8L56.8 113.2L33.4 133.2Z" fill="rgb(206,206,206)"/><path d="M234 36.3L320.9 36.3L320.9 113.2L234 109.8Z" fill="rgb(201,201,201)"/><path d="M6.7 146.6L33.4 133.2L56.8 113.2L100.3 109.8L150.4 123.2L214 126.5L234 139.9L300.9 146.6L334.3 160L341 180L327.6 200.1L314.3 226.8L327.6 240.2L320.9 266.9L287.5 307.1L200.6 283.7L133.7 240.2L83.6 220.1L43.5 206.8L6.7 180Z" fill="rgb(228,228,228)"/><path d="M341 146.6L384.5 143.3L384.5 186.7L367.7 213.5L384.5 233.5L367.7 253.6L367.7 287L334.3 266.9L327.6 240.2L314.3 226.8L327.6 200.1L341 180Z" fill="rgb(204,204,204)"/><path d="M384.5 143.3L448 146.6L468 173.3L444.6 190.1L414.5 193.4L401.2 206.8L384.5 233.5L367.7 213.5L384.5 186.7Z" fill="rgb(185,185,185)"/><path d="M468 173.3L494.8 160L508.2 220.1L484.8 200.1L461.3 186.7Z" fill="rgb(182,182,182)"/><path d="M494.8 160L521.5 143.3L571.7 180L571.7 287L534.9 287L521.5 253.6L501.5 226.8L484.8 206.8Z" fill="rgb(170,170,170)"/><path d="M334.3 213.5L367.7 210.1L371.1 233.5L334.3 233.5Z" fill="rgb(223,223,223)"/><path d="M414.5 193.4L434.6 193.4L461.3 203.4L484.8 213.5L501.5 230.2L521.5 240.2" fill="none" stroke="rgb(246,246,246)" stroke-width="4" stroke-linecap="round" stroke-linejoin="round"/><path d="M401.2 240.2L434.6 210.1L468 203.4L501.5 223.5L534.9 256.9L534.9 283.7L367.7 310.4L361.1 277L384.5 253.6Z" fill="rgb(162,162,162)"/><path d="M448 206.8L474.7 213.5L501.5 233.5L512.3 286.6L538.8 294.8L473.5 303.8L461.2 317.7L369.3 336.7L338.7 291.5L391.1 256.9L414.5 241.9L431.3 220.1Z" fill="rgb(128,128,128)" filter="url(#pb)"/><path d="M461.3 223.5L491.4 240.2L487 290.9L473.5 297.1L463.9 303.6L457.9 314.3L376 333.3L351.6 297L401.2 266.9L421.2 253.6L441.3 236.9Z" fill="rgb(76,76,76)" filter="url(#pb)"/><path d="M464.7 233.5L481.4 246.9L473.5 290.5L463.9 298.6L451.1 313.5L394.5 330.1L353.2 299.3L401.2 277L427.9 263.6L444.6 246.9Z" fill="rgb(42,42,42)" filter="url(#pb)"/></g></g><path d="M416.2 193.4L434.6 192.7L451.3 198.7L468 205.4L484.8 213.5L499.8 226.8L511.5 235.2" fill="none" stroke="#c42000" stroke-width="2.0" stroke-dasharray="2 1.2" shape-rendering="crispEdges"/><path d="M421.2 197.4L444.6 200.1L468 209.4L488.1 220.1L501.5 233.5L521.5 243.5" fill="none" stroke="#f03800" stroke-width="2.0" stroke-dasharray="2 1.2" shape-rendering="crispEdges"/></g><use href="#ol" fill="none" stroke="#555" stroke-opacity=".55" stroke-width=".7"/><use href="#il" fill="none" stroke="#1e4426" stroke-opacity=".8" stroke-width=".75"/><use href="#na"/></g>
<text class="m" x="1178.4" y="622">May</text>
<rect x="7.6" y="662" width="555.6" height="317.3" fill="none" stroke="#5a5a5a" stroke-width="1.4"/>
<g transform="translate(-1.5 649.5)"><g clip-path="url(#o)"><g transform="translate(-0.5 -0.5)" filter="url(#q6)"><g transform="translate(.5 .5)"><rect x="-10" y="10" width="600" height="320" fill="rgb(230,230,230)"/><path d="M14.9 109.8L51.6 63L218.8 49.6L218.8 36.3L322.4 36.3L322.4 126.5L335.8 133.2L302.4 129.9L268.9 116.5L235.5 113.2L215.5 109.8L151.9 109.8L101.8 106.5L58.3 109.8L14.9 116.5Z" fill="rgb(202,202,202)"/><path d="M222.1 36.3L322.4 36.3L322.4 109.8L268.9 106.5L222.1 99.8Z" fill="rgb(187,187,187)"/><path d="M248.9 79.7L268.9 79.7L268.9 93.1L248.9 93.1Z" fill="rgb(178,178,178)"/><path d="M34.9 119.9L135.2 119.9L135.2 166.7L34.9 166.7Z" fill="rgb(235,235,235)"/><path d="M248.9 156.6L322.4 156.6L322.4 166.7L248.9 166.7Z" fill="rgb(246,246,246)"/><path d="M195.4 186.7L215.5 186.7L215.5 213.5L195.4 213.5Z" fill="rgb(238,238,238)"/><path d="M202.1 233.5L285.7 233.5L285.7 277L202.1 277Z" fill="rgb(240,240,240)"/><path d="M355.9 133.2L382.6 146.6L382.6 180L389.3 200.1L369.2 213.5L349.2 200.1L355.9 166.7Z" fill="rgb(204,204,204)"/><path d="M322.4 200.1L369.2 213.5L402.7 206.8L402.7 233.5L396 253.6L369.2 283.7L335.8 266.9L322.4 253.6Z" fill="rgb(209,209,209)"/><path d="M382.6 146.6L449.5 146.6L469.5 173.3L523 143.3L573.2 180L573.2 287L536.4 287L523 246.9L496.3 216.8L462.8 200.1L422.7 196.7L402.7 206.8L389.3 200.1L382.6 180Z" fill="rgb(178,178,178)"/><path d="M496.3 160L523 143.3L573.2 180L573.2 216.8L496.3 213.5Z" fill="rgb(168,168,168)"/><path d="M386 200.1L422.7 196.7L442.8 213.5L402.7 240.2L386 256.9L369.2 283.7L369.2 213.5Z" fill="rgb(196,196,196)"/><path d="M402.7 240.2L436.1 210.1L469.5 206.8L503 226.8L536.4 260.3L536.4 283.7L369.2 310.4L362.6 277L386 256.9Z" fill="rgb(162,162,162)"/><path d="M424.4 230.2L456.2 218.5L486.3 230.2L509.7 263.6L497.7 307.8L475 303.8L462.7 317.7L370.8 336.7L340.2 294.9L392.6 263.6L412.7 246.9Z" fill="rgb(128,128,128)" filter="url(#pb)"/><path d="M432.8 238.5L469.5 235.2L478.3 287.1L483.2 297.4L465.4 303.6L459.4 314.3L377.5 333.3L353.1 298.6L402.7 273.6L421.1 258.6Z" fill="rgb(76,76,76)" filter="url(#pb)"/><path d="M436.1 245.2L462.8 245.2L481.5 290.7L465.4 302L452.6 313.5L399.3 330.1L387.5 326.7L406 282L427.7 270.3Z" fill="rgb(60,60,60)" filter="url(#pb)"/><path d="M436.1 246.9L456.2 246.9L484.3 287.4L465.4 302L440.8 307.9L429.4 263.6Z" fill="rgb(34,34,34)" filter="url(#pb)"/></g></g></g><use href="#ol" fill="none" stroke="#555" stroke-opacity=".55" stroke-width=".7"/><use href="#il" fill="none" stroke="#1e4426" stroke-opacity=".8" stroke-width=".75"/><use href="#na"/></g>
<text class="m" x="52.3" y="941.6">Jun</text>
<rect x="572.9" y="662" width="555.6" height="317.3" fill="none" stroke="#5a5a5a" stroke-width="1.4"/>
<g transform="translate(563 649.5)"><g clip-path="url(#o)"><g transform="translate(0 -0.5)" filter="url(#q7)"><g transform="translate(0 .5)"><rect x="-10" y="10" width="600" height="320" fill="rgb(178,178,178)"/><path d="M13.4 106.5L50.1 73L100.3 76.4L140.4 86.4L214 109.8L234 126.5L267.4 133.2L287.5 146.6L320.9 166.7L300.9 173.3L254.1 166.7L220.6 186.7L187.2 186.7L173.8 206.8L147.1 233.5L127 216.8L83.6 213.5L43.5 203.4L10 180L6.7 153.3Z" fill="rgb(191,191,191)"/><path d="M20.1 99.8L83.6 99.8L83.6 133.2L20.1 133.2Z" fill="rgb(199,199,199)"/><path d="M234 66.4L260.8 66.4L260.8 109.8L234 109.8Z" fill="rgb(185,185,185)"/><path d="M147.1 206.8L320.9 206.8L320.9 277L200.6 283.7L147.1 240.2Z" fill="rgb(182,182,182)"/><path d="M374.4 186.7L401.2 173.3L448 166.7L468 173.3L494.8 166.7L521.5 143.3L571.7 180L571.7 266.9L534.9 283.7L367.7 310.4L334.3 266.9L320.9 240.2L334.3 213.5L354.4 200.1Z" fill="rgb(168,168,168)"/><path d="M521.5 186.7L571.7 186.7L571.7 253.6L521.5 253.6Z" fill="rgb(162,162,162)"/><path d="M414.5 233.5L448 226.8L481.4 233.5L508.2 260.3L473.5 303.8L461.2 319.3L369.3 336.7L338.7 291.5L387.8 260.3Z" fill="rgb(138,138,138)" filter="url(#pb)"/><path d="M427.9 233.5L468 240.2L480.2 290.5L463.9 312L457.9 316L376 333.3L348.3 293.6L401.2 266.9L421.2 250.2Z" fill="rgb(110,110,110)" filter="url(#pb)"/><path d="M434.6 240.2L461.3 246.9L485 294.1L460.6 308.7L451.2 312.6L379.4 331.7L354.9 300.3L417.9 273.6L434.6 260.3Z" fill="rgb(85,85,85)" filter="url(#pb)"/><path d="M437.9 246.9L454.7 253.6L482.8 290.7L460.6 305.3L437.9 266.9Z" fill="rgb(42,42,42)" filter="url(#pb)"/></g></g></g><use href="#ol" fill="none" stroke="#555" stroke-opacity=".55" stroke-width=".7"/><use href="#il" fill="none" stroke="#1e4426" stroke-opacity=".8" stroke-width=".75"/><use href="#na"/></g>
<text class="m" x="619.2" y="945">Jul</text>
<rect x="1138.1" y="662" width="556" height="317.3" fill="none" stroke="#5a5a5a" stroke-width="1.4"/>
<g transform="translate(1128 649.5)"><g clip-path="url(#o)"><g transform="translate(0 -0.5)" filter="url(#q8)"><g transform="translate(0 .5)"><rect x="-10" y="10" width="600" height="320" fill="rgb(162,162,162)"/><path d="M6.7 146.6L20.1 106.5L50.1 69.7L100.3 73L133.7 76.4L140.4 99.8L133.7 126.5L127 146.6L100.3 160L107 186.7L120.4 206.8L83.6 213.5L43.5 203.4L6.7 180Z" fill="rgb(175,175,175)"/><path d="M100.3 73L133.7 66.4L217.3 56.3L217.3 99.8L187.2 109.8L140.4 99.8Z" fill="rgb(171,171,171)"/><path d="M217.3 36.3L320.9 36.3L320.9 73L300.9 93.1L254.1 89.8L217.3 83.1Z" fill="rgb(173,173,173)"/><path d="M133.7 173.3L187.2 173.3L234 200.1L300.9 206.8L367.7 200.1L401.2 213.5L401.2 240.2L367.7 266.9L300.9 253.6L234 246.9L187.2 240.2L147.1 213.5Z" fill="rgb(156,156,156)"/><path d="M417.9 156.6L448 146.6L474.7 173.3L521.5 143.3L571.7 180L571.7 266.9L534.9 283.7L434.6 300.4L401.2 260.3L401.2 213.5L421.2 200.1Z" fill="rgb(156,156,156)"/><path d="M461.3 173.3L548.3 173.3L548.3 206.8L461.3 206.8Z" fill="rgb(150,150,150)"/><path d="M391.1 260.3L421.2 253.6L437.9 233.5L468 240.2L489.2 291L538.8 291.4L473.5 303.8L461.2 317.7L369.3 336.7L342.1 291.5Z" fill="rgb(128,128,128)" filter="url(#pb)"/><path d="M401.2 263.6L431.3 260.3L444.6 243.5L468 253.6L485 294.1L463.9 302L457.9 314.3L376 333.3L351.6 293.6Z" fill="rgb(94,94,94)" filter="url(#pb)"/><path d="M354.9 297L447.7 303.5L454.5 312.6L379.4 331.7Z" fill="rgb(82,82,82)" filter="url(#pb)"/></g></g></g><use href="#ol" fill="none" stroke="#555" stroke-opacity=".55" stroke-width=".7"/><use href="#il" fill="none" stroke="#1e4426" stroke-opacity=".8" stroke-width=".75"/><use href="#na"/></g>
<text class="m" x="1175.4" y="941.8">Aug</text>
<rect x="7.7" y="985.7" width="555.4" height="318" fill="none" stroke="#5a5a5a" stroke-width="1.4"/>
<g transform="translate(-2 973)"><g clip-path="url(#o)"><g transform="translate(0 0)" filter="url(#q9)"><g transform="translate(0 0)"><rect x="-10" y="10" width="600" height="320" fill="rgb(162,162,162)"/><path d="M219.3 36.8L322.9 36.8L322.9 66.9L219.3 66.9Z" fill="rgb(155,155,155)"/><path d="M52.1 60.2L135.7 60.2L135.7 80.2L52.1 80.2Z" fill="rgb(153,153,153)"/><path d="M28.7 113.7L68.9 110.3L135.7 113.7L189.2 120.4L216 133.7L216 187.2L202.6 220.6L169.2 227.3L135.7 200.6L129 173.8L102.3 150.4L68.9 140.4L35.4 147.1Z" fill="rgb(171,171,171)"/><path d="M8.7 150.4L35.4 147.1L68.9 140.4L102.3 150.4L129 173.8L135.7 200.6L162.5 220.6L149.1 234L129 217.3L85.6 214L45.5 203.9L8.7 180.5Z" fill="rgb(179,179,179)"/><path d="M195.9 250.7L262.8 250.7L262.8 267.4L195.9 267.4Z" fill="rgb(169,169,169)"/><path d="M322.9 173.8L369.7 160.5L419.9 157.1L450 147.1L476.7 173.8L523.5 143.8L573.7 180.5L573.7 277.5L536.9 284.2L369.7 310.9L336.3 267.4L322.9 240.7L316.3 220.6L336.3 207.3L343 187.2Z" fill="rgb(150,150,150)"/><path d="M322.9 234L396.5 234L396.5 267.4L322.9 267.4Z" fill="rgb(155,155,155)"/><path d="M463.5 125.9L473.9 146L531 116.8L597.1 165.1L601.7 254.1L523.5 234L496.8 214L463.3 200.6L436.6 187.2Z" fill="rgb(137,137,137)" filter="url(#pb)"/><path d="M393.1 260.8L419.9 247.4L426.6 214L470 200.6L510.2 220.6L584.1 261L567.4 295.2L540.8 295.3L463.2 318.2L371.3 337.2L344.1 292Z" fill="rgb(128,128,128)" filter="url(#pb)"/><path d="M433.3 214L470 207.3L503.5 234L536.9 247.4L578.2 262.1L504.8 305L475.5 294.3L486.8 254.1L483.4 234L463.3 220.6L436.6 230.7Z" fill="rgb(105,105,105)" filter="url(#pb)"/><path d="M436.6 230.7L463.3 220.6L483.4 234L486.8 254.1L483.7 291.2L453.3 247.4L443.3 234Z" fill="rgb(76,76,76)" filter="url(#pb)"/><path d="M433.3 234L443.3 234L453.3 247.4L483.7 291.2L465.9 302.5L456.5 311.5L381.4 330.5L353.6 297.5L399.8 264.1L426.6 257.4L433.3 247.4Z" fill="rgb(26,26,26)" filter="url(#pb)"/></g></g></g><use href="#ol" fill="none" stroke="#555" stroke-opacity=".55" stroke-width=".7"/><use href="#il" fill="none" stroke="#1e4426" stroke-opacity=".8" stroke-width=".75"/><use href="#na"/></g>
<text class="m" x="50" y="1266">Sep</text>
<rect x="572.9" y="985.7" width="555.6" height="318" fill="none" stroke="#5a5a5a" stroke-width="1.4"/>
<g transform="translate(563 973)"><g clip-path="url(#o)"><g transform="translate(0 0)" filter="url(#q10)"><g transform="translate(0 0)"><rect x="-10" y="10" width="600" height="320" fill="rgb(144,144,144)"/><path d="M13.4 103.6L50.1 63.5L217.3 50.1L217.3 36.8L320.9 36.8L320.9 133.7L300.9 127L267.4 120.4L234 110.3L214 110.3L150.4 113.7L100.3 110.3L50.1 110.3L13.4 113.7Z" fill="rgb(133,133,133)"/><path d="M66.9 83.6L214 83.6L214 107L66.9 107Z" fill="rgb(123,123,123)"/><path d="M6.7 150.4L20.1 127L66.9 120.4L150.4 123.7L207.3 133.7L234 147.1L300.9 140.4L344.3 157.1L326 177.2L341 193.9L317.6 214L334.3 234L320.9 267.4L287.5 307.6L200.6 284.2L133.7 240.7L83.6 220.6L43.5 207.3L6.7 180.5Z" fill="rgb(162,162,162)"/><path d="M344.3 157.1L371.1 167.2L361.1 193.9L367.7 214L334.3 234L317.6 214L341 193.9L326 177.2Z" fill="rgb(154,154,154)"/><path d="M327.6 234L401.2 234L401.2 254.1L327.6 254.1Z" fill="rgb(156,156,156)"/><path d="M53.5 187.2L80.2 183.9L86.9 200.6L66.9 203.9L53.5 197.2Z" fill="rgb(178,178,178)"/><path d="M123.7 207.3L157.1 214L160.5 230.7L143.8 234L127 220.6Z" fill="rgb(178,178,178)"/><path d="M107 180.5L130.4 180.5L133.7 200.6L110.3 197.2Z" fill="rgb(170,170,170)"/><path d="M334.3 153.8L367.7 147.1L448 147.1L448 187.2L417.9 200.6L394.5 207.3L384.5 227.3L334.3 214L334.3 187.2Z" fill="rgb(138,138,138)"/><path d="M461.5 125.9L471.9 146L512.4 117.3L595.1 165.1L599.6 275.4L548.7 308.5L526.2 281.7L494.8 214L461.3 200.6L434.6 200.6L448 187.2Z" fill="rgb(119,119,119)" filter="url(#pb)"/><path d="M401.2 214L434.6 200.6L488.1 200.6L514.8 240.7L547.1 278.8L538.8 295.3L461.2 318.2L369.3 337.2L338.7 292L387.8 254.1Z" fill="rgb(110,110,110)" filter="url(#pb)"/><path d="M434.6 210.6L481.4 207.3L501.5 240.7L489.2 291.5L463.9 302.5L457.9 314.8L376 333.8L348.3 294.1L394.5 260.8L417.9 247.4Z" fill="rgb(94,94,94)" filter="url(#pb)"/><path d="M461.3 220.6L481.4 230.7L488.1 247.4L461.3 257.4L434.6 267.4L447.7 304L394.5 287.5L401.2 270.8L431.3 254.1L448 234Z" fill="rgb(70,70,70)" filter="url(#pb)"/></g></g></g><use href="#ol" fill="none" stroke="#555" stroke-opacity=".55" stroke-width=".7"/><use href="#il" fill="none" stroke="#1e4426" stroke-opacity=".8" stroke-width=".75"/><use href="#na"/></g>
<text class="m" x="614.6" y="1262.6">Oct</text>
<rect x="1138.1" y="985.7" width="556" height="318" fill="none" stroke="#5a5a5a" stroke-width="1.4"/>
<g transform="translate(1128 973)"><g clip-path="url(#o)"><g transform="translate(0 0)" filter="url(#q11)"><g transform="translate(0 0)"><rect x="-10" y="10" width="600" height="320" fill="rgb(110,110,110)"/><path d="M6.7 150.4L23.4 133.7L66.9 127L133.7 133.7L173.8 153.8L214 140.4L254.1 147.1L300.9 147.1L347.7 160.5L367.7 187.2L384.5 214L401.2 234L394.5 254.1L377.8 267.4L367.7 287.5L287.5 307.6L200.6 284.2L133.7 240.7L83.6 220.6L43.5 207.3L6.7 180.5Z" fill="rgb(128,128,128)"/><path d="M53.5 160.5L100.3 160.5L133.7 180.5L147.1 207.3L187.2 227.3L234 230.7L300.9 240.7L320.9 254.1L314.3 270.8L287.5 307.6L200.6 284.2L133.7 240.7L83.6 220.6L50.1 193.9Z" fill="rgb(137,137,137)"/><path d="M461.5 125.9L471.9 146L512.4 117.3L595.1 165.1L599.6 275.4L548.7 308.5L526.2 281.7L494.8 214L461.3 200.6L434.6 200.6L448 187.2Z" fill="rgb(101,101,101)" filter="url(#pb)"/><path d="M512.4 120.6L595.1 165.1L599.4 213.2L521.5 217.3Z" fill="rgb(94,94,94)" filter="url(#pb)"/><path d="M417.9 207.3L468 197.2L501.5 214L524.9 244L528.5 283.9L545.5 298.6L461.2 318.2L369.3 337.2L342.1 292L391.1 257.4L411.2 240.7Z" fill="rgb(94,94,94)" filter="url(#pb)"/><path d="M431.3 207.3L468 203.9L494.8 220.6L514.8 247.4L529.6 291.6L538.8 295.3L473.5 297.6L463.9 302.5L457.9 314.8L376 333.8L351.6 294.1L401.2 264.1L424.6 247.4L434.6 227.3Z" fill="rgb(76,76,76)" filter="url(#pb)"/><path d="M466.4 239L488.1 242.4L508.2 262.4L543.8 295.3L487 301.5L473.5 299.3L468 255.7Z" fill="rgb(51,51,51)" filter="url(#pb)"/></g></g></g><use href="#ol" fill="none" stroke="#555" stroke-opacity=".55" stroke-width=".7"/><use href="#il" fill="none" stroke="#1e4426" stroke-opacity=".8" stroke-width=".75"/><use href="#na"/></g>
<text class="m" x="1174.3" y="1269.5">Nov</text>
<rect x="42.4" y="1309.3" width="107.9" height="25.2" fill="rgb(0,102,255)"/><rect x="150" y="1309.3" width="107.9" height="25.2" fill="rgb(0,132,245)"/><rect x="257.7" y="1309.3" width="107.9" height="25.2" fill="rgb(0,150,235)"/><rect x="365.3" y="1309.3" width="107.9" height="25.2" fill="rgb(0,163,225)"/><rect x="473" y="1309.3" width="107.9" height="25.2" fill="rgb(12,222,238)"/><rect x="580.6" y="1309.3" width="107.9" height="25.2" fill="rgb(48,235,155)"/><rect x="688.3" y="1309.3" width="107.9" height="25.2" fill="rgb(88,240,88)"/><rect x="795.9" y="1309.3" width="107.9" height="25.2" fill="rgb(165,250,110)"/><rect x="903.6" y="1309.3" width="107.9" height="25.2" fill="rgb(195,250,70)"/><rect x="1011.2" y="1309.3" width="107.9" height="25.2" fill="rgb(240,255,48)"/><rect x="1118.9" y="1309.3" width="107.9" height="25.2" fill="rgb(255,205,20)"/><rect x="1226.5" y="1309.3" width="107.9" height="25.2" fill="rgb(255,140,0)"/><rect x="1334.2" y="1309.3" width="107.9" height="25.2" fill="rgb(255,95,0)"/><rect x="1441.8" y="1309.3" width="107.9" height="25.2" fill="rgb(255,45,0)"/><rect x="1549.5" y="1309.3" width="107.9" height="25.2" fill="rgb(255,0,0)"/><path d="M42.4 1309.3V1334.5M150 1309.3V1334.5M257.7 1309.3V1334.5M365.3 1309.3V1334.5M473 1309.3V1334.5M580.6 1309.3V1334.5M688.3 1309.3V1334.5M795.9 1309.3V1334.5M903.6 1309.3V1334.5M1011.2 1309.3V1334.5M1118.9 1309.3V1334.5M1226.5 1309.3V1334.5M1334.2 1309.3V1334.5M1441.8 1309.3V1334.5M1549.5 1309.3V1334.5M1657.1 1309.3V1334.5M42.4 1309.3H1657.1M42.4 1334.5H1657.1" stroke="#6e6e6e" stroke-width="1.2" fill="none"/>
<text class="t" x="41.3" y="1364.7" text-anchor="middle">88</text><text class="t" x="152.1" y="1364.7" text-anchor="middle">130</text><text class="t" x="261.3" y="1364.7" text-anchor="middle">210</text><text class="t" x="372.2" y="1364.7" text-anchor="middle">260</text><text class="t" x="482.7" y="1364.7" text-anchor="middle">310</text><text class="t" x="580" y="1364.7" text-anchor="middle">360</text><text class="t" x="693.5" y="1364.7" text-anchor="middle">410</text><text class="t" x="798.4" y="1364.7" text-anchor="middle">460</text><text class="t" x="912.6" y="1364.7" text-anchor="middle">520</text><text class="t" x="1027" y="1364.7" text-anchor="middle">570</text><text class="t" x="1122.4" y="1364.7" text-anchor="middle">650</text><text class="t" x="1235.9" y="1364.7" text-anchor="middle">725</text><text class="t" x="1341.8" y="1364.7" text-anchor="middle">780</text><text class="t" x="1455.3" y="1364.7" text-anchor="middle">830</text><text class="t" x="1560.2" y="1364.7" text-anchor="middle">910</text><text class="t" x="1652" y="1364.7" text-anchor="middle">1170</text>
<text class="c" x="853.5" y="1411.6" text-anchor="middle">Monthly Mean SSR MJ/(m<tspan font-size="21" dy="-16.4">2</tspan><tspan dy="16.4">·month)</tspan></text>
</svg></body></html>
